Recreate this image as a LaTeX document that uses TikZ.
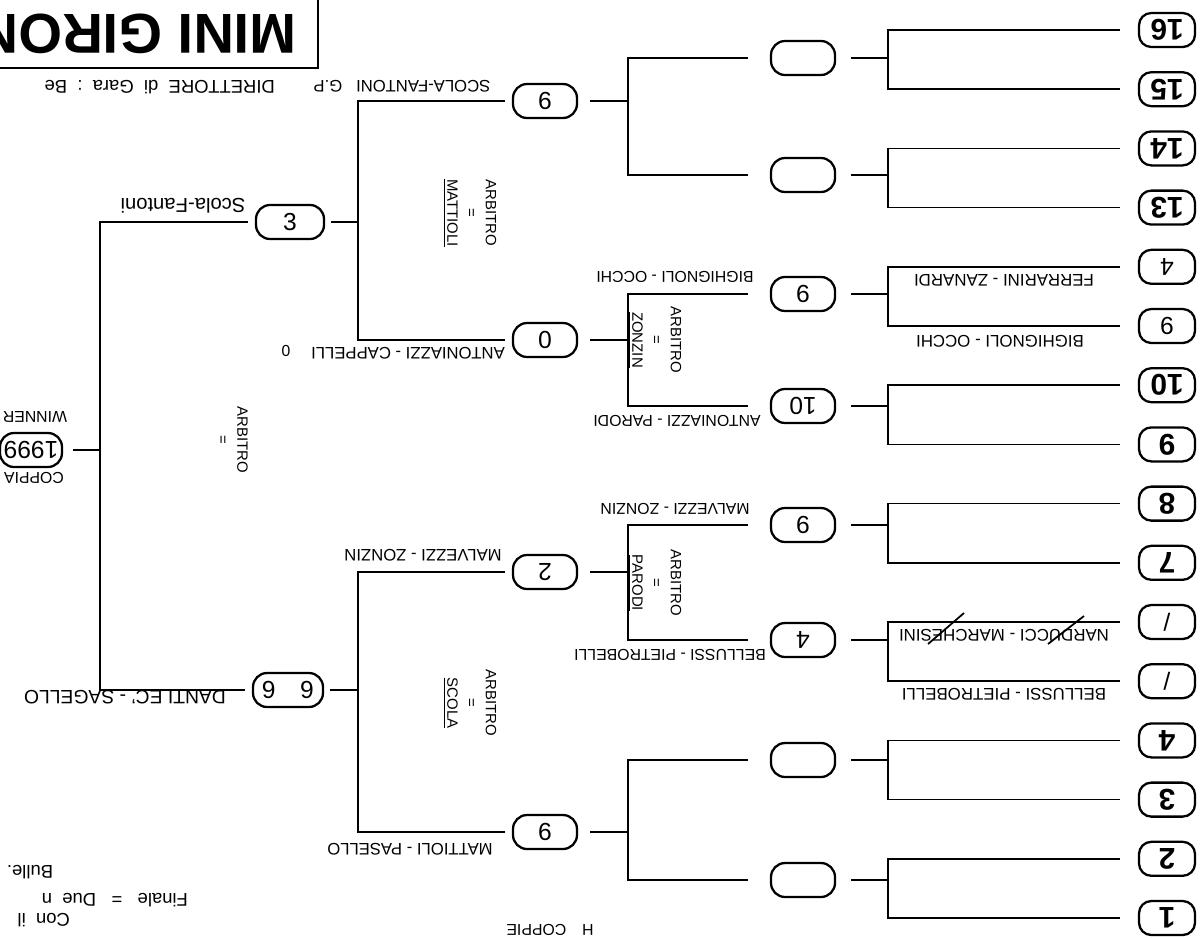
\documentclass[tikz,border=0pt]{standalone}
\usepackage{fontspec}
\setmainfont{Liberation Sans}
\usetikzlibrary{positioning}
\newcommand{\upside}[1]{\rotatebox[origin=c]{180}{#1}}
\newcommand{\hw}{\mdseries\fontsize{14}{14}\selectfont}
% top, bottom, winner, vertical, gap at the pair, gap at the winner
\newcommand{\pairjoin}[6]{%
  \draw[wire] ([xshift=-#5]#1.west) -- (#4 |- #1) -- (#4 |- #2) -- ([xshift=-#5]#2.west);
  \draw[wire] (#4 |- #3) -- ([xshift=#6]#3.east);
}
\tikzset{
  seed/.style={draw, line width=1.3pt, rounded corners=7pt, minimum width=1.12cm,
    minimum height=0.68cm, inner sep=0pt, font=\bfseries\fontsize{17}{17}\selectfont},
  game/.style={draw, line width=1.3pt, rounded corners=8pt, minimum width=1.28cm,
    minimum height=0.68cm, inner sep=0pt, font=\fontsize{14}{14}\selectfont},
  hand/.style={rotate=180, inner sep=1pt, font=\fontsize{9}{9}\selectfont},
  big hand/.style={hand, font=\fontsize{10.5}{11}\selectfont},
  seed hand/.style={hand, font=\fontsize{9.6}{10}\selectfont},
  ref/.style={rotate=-90, align=center, inner sep=0pt, font=\fontsize{8.5}{11}\selectfont},
  wire/.style={line width=1pt}
}
\begin{document}
\begin{tikzpicture}[x=0.02cm, y=-0.02cm]
  \useasboundingbox (0,0) rectangle (1202,937);
  \clip (0,0) rectangle (1202,937);

  % title
  \draw[line width=1.4pt] (-10,-10) rectangle (318,68);
  \node[rotate=180, anchor=west, inner sep=0pt, font=\bfseries\fontsize{32}{32}\selectfont] (title) at (297,34) {MINI GIRON};
  \node[hand, font=\fontsize{9.5}{10}\selectfont] (gp) at (402,86) {SCOLA-FANTONI\ \ \ G.P};
  \node[big hand, anchor=west] (dir) at (277,87) {DIRETTORE\ \ di\ \ Gara\ \ :\ \ Be};

  % first round
  \foreach \lab [count=\i from 0] in {16,15,14,13,{\hw 4},{\hw 9},10,9,8,7,{\hw /},{\hw /},4,3,2,1}
    \node[seed] (s\i) at (1167,{30+59.2*\i}) {\upside{\lab}};

  % later rounds
  \foreach \y/\lab [count=\i] in {58/,175/,294/9,406/10,525/9,640/4,760/,880/}
    \node[game] (q\i) at (803,\y) {\upside{\lab}};
  \foreach \y/\lab [count=\i] in {101/9,340/0,572/2,832/9}
    \node[game] (t\i) at (545,\y) {\upside{\lab}};
  \node[game, minimum width=1.36cm] (h1) at (290,222) {3};
  \node[game, minimum width=1.40cm] (h2) at (288,690) {\upside{6\quad 6}};
  \node[game, minimum width=1.24cm] (w) at (31,450) {\upside{1999}};

  \coordinate (v1) at (888,0);
  \coordinate (v2) at (628,0);
  \coordinate (v3) at (358,0);
  \coordinate (v4) at (100,0);

  \foreach \a/\b/\c in {s0/s1/q1,s2/s3/q2,s4/s5/q3,s6/s7/q4,s8/s9/q5,s10/s11/q6,s12/s13/q7,s14/s15/q8}
    {\pairjoin{\a}{\b}{\c}{v1}{0.36cm}{0.3cm}}
  \foreach \a/\b/\c in {q1/q2/t1,q3/q4/t2,q5/q6/t3,q7/q8/t4}
    {\pairjoin{\a}{\b}{\c}{v2}{0.44cm}{0.24cm}}
  \pairjoin{t1}{t2}{h1}{v3}{0.14cm}{0.12cm}
  \pairjoin{t3}{t4}{h2}{v3}{0.14cm}{0.12cm}
  \pairjoin{h1}{h2}{w}{v4}{0.14cm}{0.2cm}

  % pairs written on the lines
  \node[seed hand] (l1) at (1004,280) {FERRARINI - ZANARDI};
  \node[seed hand] (l2) at (1000,341) {BIGHIGNOLI - OCCHI};
  \node[seed hand] (l3) at (1004,635) {NARDUCCI - MARCHESINI};
  \node[seed hand] (l4) at (1004,694) {BELLUSSI - PIETROBELLI};
  \draw[wire] (928,644) -- (964,613);
  \draw[wire] (1048,644) -- (1084,616);
  \node[hand] (l5) at (675,277) {BIGHIGNOLI - OCCHI};
  \node[hand] (l6) at (677,421) {ANTONIAZZI - PARODI};
  \node[hand] (l7) at (675,509) {MALVEZZI - ZONZIN};
  \node[hand] (l8) at (670,655) {BELLUSSI - PIETROBELLI};
  \node[hand, font=\fontsize{9.5}{10}\selectfont] (l9) at (408,353) {ANTONIAZZI - CAPPELLI};
  \node[hand] (l10) at (286,351) {0};
  \node[hand, font=\fontsize{9.5}{10}\selectfont] (l11) at (423,555) {MALVEZZI - ZONZIN};
  \node[hand, font=\fontsize{9.5}{10}\selectfont] (l12) at (410,849) {MATTIOLI - PASELLO};
  \node[hand, font=\fontsize{11.5}{12}\selectfont] (l13) at (183,206) {Scola-Fantoni};
  \node[hand, font=\fontsize{11}{12}\selectfont] (l14) at (125,697) {DANTI EC' - SAGELLO};
  \node[hand] (cup) at (34,478) {COPPIA};
  \node[hand] (win) at (35,417) {WINNER};

  % referees
  \node[ref] (a1) at (470,213) {ARBITRO\\=\\\underline{MATTIOLI}};
  \node[ref] (a2) at (655,340) {ARBITRO\\=\\\underline{ZONZIN}};
  \node[ref] (a3) at (655,583) {ARBITRO\\=\\\underline{PARODI}};
  \node[ref] (a4) at (470,703) {ARBITRO\\=\\\underline{SCOLA}};
  \node[ref] (a5) at (233,440) {ARBITRO\\=};

  % notes
  \node[big hand] (n1) at (30,872) {Bulle.};
  \node[big hand, anchor=west] (n2) at (190,900) {Finale\ \ \ =\ \ \ Due\ \ n};
  \node[big hand, anchor=west] (n3) at (72,920) {Con\ \ il};
  \node[hand] (n4) at (550,930) {H\quad COPPIE};
\end{tikzpicture}
\end{document}
